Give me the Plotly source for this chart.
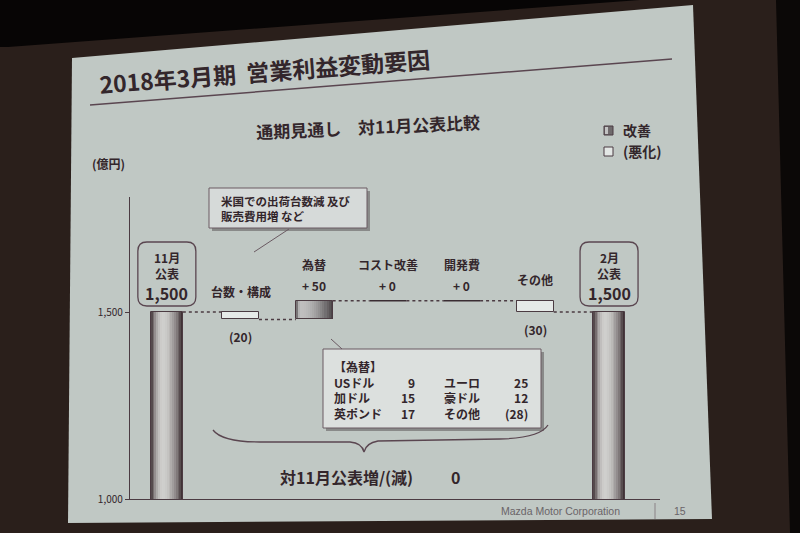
import math
import plotly.graph_objects as go

# ---------------- data ----------------
categories = ["11月\n公表", "台数・構成", "為替", "コスト改善", "開発費", "その他", "2月\n公表"]
measures = ["total", "relative", "relative", "relative", "relative", "relative", "total"]
values = [1500, -20, 50, 0, 0, -30, 1500]
value_labels = ["1,500", "(20)", "+ 50", "+ 0", "+ 0", "(30)", "1,500"]
y_tick_values = [1000, 1500]
y_tick_labels = ["1,000", "1,500"]
fx_title = "【為替】"
fx_left_names = ["USドル", "加ドル", "英ポンド"]
fx_left_values = ["9", "15", "17"]
fx_right_names = ["ユーロ", "豪ドル", "その他"]
fx_right_values = ["25", "12", "(28)"]
change_label = "対11月公表増/(減)"
change_value = "0"
legend_labels = ["改善", "(悪化)"]

# ---------------- geometry ----------------
FW, FH = 800, 533
L, R, T, B = 130, 140, 197, 34
W = FW - L - R
H = FH - T - B
YMIN = 1000
YMAX = 1000 + H / 0.374
XMIN = -0.5
XMAX = XMIN + W / 73.7

FONT = "Noto Sans CJK JP"
TXT = "#33262b"
LINE = "#4b3b42"


def xpix(x):
    return L + (x - XMIN) / (XMAX - XMIN) * W


def ypix(v):
    return T + (YMAX - v) / (YMAX - YMIN) * H


def pxp(x):
    return (x - L) / W


def pyp(y):
    return (T + H - y) / H


def poly(points):
    return "M " + " L ".join(f"{pxp(x):.5f},{pyp(y):.5f}" for x, y in points) + " Z"


def rounded(x0, y0, x1, y1, r):
    rx, ry = r / W, r / H
    a, b, c, d = pxp(x0), pyp(y1), pxp(x1), pyp(y0)
    return (f"M {a+rx},{b} L {c-rx},{b} Q {c},{b} {c},{b+ry} L {c},{d-ry} "
            f"Q {c},{d} {c-rx},{d} L {a+rx},{d} Q {a},{d} {a},{d-ry} L {a},{b+ry} "
            f"Q {a},{b} {a+rx},{b} Z")


def shade(t, peak, dark, light):
    if t < peak:
        s = 0.12 + 0.88 * math.sin(t / peak * math.pi / 2)
    else:
        s = math.cos((t - peak) / (1 - peak) * math.pi / 2) ** 0.9
    c = [int(dk + (lt - dk) * s) for dk, lt in zip(dark, light)]
    return f"rgb({c[0]},{c[1]},{c[2]})"


# ---------------- waterfall geometry from data ----------------
bars = []
level = 0
for i, (m, v) in enumerate(zip(measures, values)):
    if m == "total":
        start, end = 0, v
    else:
        start, end = level, level + v
    level = end
    bars.append(dict(i=i, m=m, v=v, start=start, end=end, lo=min(start, end), hi=max(start, end)))

TW, RWD = 0.434, 0.50
for b in bars:
    b["w"] = TW if b["m"] == "total" else RWD

fig = go.Figure()


def add_gradient(sel, width, peak, dark, light, n=18):
    for k in range(n):
        t = (k + 0.5) / n
        off = -width / 2 + k * width / n
        wk = min(width / n * 1.3, width / 2 - off)
        fig.add_trace(go.Bar(
            x=[b["i"] for b in sel], y=[b["hi"] - b["lo"] for b in sel],
            base=[b["lo"] for b in sel], width=wk, offset=off,
            marker=dict(color=shade(t, peak, dark, light), line=dict(width=0)),
            hoverinfo="skip", showlegend=False))
    fig.add_trace(go.Bar(
        x=[b["i"] for b in sel], y=[b["hi"] - b["lo"] for b in sel],
        base=[b["lo"] for b in sel], width=width, offset=-width / 2,
        marker=dict(color="rgba(0,0,0,0)", line=dict(width=1, color=LINE)),
        hoverinfo="skip", showlegend=False))


tot = [b for b in bars if b["m"] == "total"]
pos = [b for b in bars if b["m"] == "relative" and b["v"] > 0]
neg = [b for b in bars if b["m"] == "relative" and b["v"] < 0]
zer = [b for b in bars if b["m"] == "relative" and b["v"] == 0]

add_gradient(tot, TW, 0.36, (50, 36, 40), (208, 208, 206))
add_gradient(pos, RWD, 0.12, (68, 62, 65), (192, 192, 192))

fig.add_trace(go.Bar(
    x=[b["i"] for b in neg], y=[b["hi"] - b["lo"] for b in neg],
    base=[b["lo"] for b in neg], width=RWD, offset=-RWD / 2,
    marker=dict(color="#e6eae8", line=dict(width=1, color=LINE)),
    hoverinfo="skip", showlegend=False))

zx, zy = [], []
for b in zer:
    zx += [b["i"] - RWD / 2, b["i"] + RWD / 2, None]
    zy += [b["end"], b["end"], None]
fig.add_trace(go.Scatter(x=zx, y=zy, mode="lines", line=dict(color="#3a2d33", width=1.6),
                         hoverinfo="skip", showlegend=False))

cx, cy = [], []
for a, b in zip(bars[:-1], bars[1:]):
    cx += [a["i"] + a["w"] / 2, b["i"] - b["w"] / 2, None]
    cy += [a["end"], a["end"], None]
fig.add_trace(go.Scatter(x=cx, y=cy, mode="lines", line=dict(color=LINE, width=1.6, dash="dot"),
                         hoverinfo="skip", showlegend=False))

# ---------------- decorations ----------------
shapes = []
anns = []

shapes.append(dict(type="path", xref="paper", yref="paper", layer="below",
                   path=poly([(0, 0), (640, 0), (8, 47), (0, 47)]),
                   fillcolor="#070505", line=dict(width=0)))
shapes.append(dict(type="path", xref="paper", yref="paper", layer="below",
                   path=poly([(776, 0), (800, 0), (800, 533), (790, 533)]),
                   fillcolor="#0b0807", line=dict(width=0)))
shapes.append(dict(type="path", xref="paper", yref="paper", layer="below",
                   path=poly([(72, 58), (693, 5), (712, 519), (68, 523)]),
                   fillcolor="#c0c8c4", line=dict(width=0)))


def text(px, py, s, size=12, xanchor="center", color=TXT, bold=True, angle=0, family=FONT,
         align="center", yanchor="middle"):
    anns.append(dict(x=pxp(px), y=pyp(py), xref="paper", yref="paper", text=(f"<b>{s}</b>" if bold else s),
                     showarrow=False, xanchor=xanchor, yanchor=yanchor, textangle=angle, align=align,
                     borderpad=0, font=dict(family=family, size=size, color=color)))


def line(x0, y0, x1, y1, color=LINE, width=1):
    shapes.append(dict(type="line", xref="paper", yref="paper", x0=pxp(x0), y0=pyp(y0),
                       x1=pxp(x1), y1=pyp(y1), line=dict(color=color, width=width)))


def rect(x0, y0, x1, y1, fill, color=LINE, width=1, layer="above"):
    shapes.append(dict(type="rect", xref="paper", yref="paper", x0=pxp(x0), y0=pyp(y1),
                       x1=pxp(x1), y1=pyp(y0), fillcolor=fill, layer=layer,
                       line=dict(color=color, width=width)))


# title + underline
text(264, 71, "2018年3月期  営業利益変動要因", size=23, angle=-4.4)
line(90, 105, 672, 59, color="#5a4650", width=1.5)
text(368, 126, "通期見通し　対11月公表比較", size=17, angle=-2.6)
text(108, 163, "(億円)", size=12)

# legend
for k, lab in enumerate(legend_labels):
    y = 131 + k * 21
    if k == 0:
        rect(604, y - 5, 613, y + 4, "#6f6a6c")
        rect(605, y - 4, 608, y + 3, "#c3c3c3", width=0)
    else:
        rect(604, y - 5, 613, y + 4, "#e3e7e5")
    text(622, y - 1, lab, size=14, xanchor="left")

# category labels and values
for b, cat, vl in zip(bars, categories, value_labels):
    cxp = xpix(b["i"])
    top, bot = ypix(b["hi"]), ypix(b["lo"])
    if b["m"] == "total":
        shapes.append(dict(type="path", xref="paper", yref="paper",
                           path=rounded(cxp - 29, top - 70, cxp + 29, top - 6, 9),
                           line=dict(color="#5a4650", width=1.3), fillcolor="rgba(0,0,0,0)"))
        l1, l2 = cat.split("\n")
        text(cxp, top - 55, l1, size=12)
        text(cxp, top - 39, l2, size=12)
        text(cxp, top - 19, vl, size=16)
    elif b["v"] < 0:
        text(cxp, top - 21, cat, size=12)
        text(cxp, bot + 17, vl, size=12)
    else:
        text(cxp, top - 36, cat, size=12)
        text(cxp, top - 15, vl, size=12)

# callout 1
rect(212, 191, 370, 231, "rgba(70,62,66,0.45)", width=0)
rect(209, 188, 367, 228, "#d6dad9", color="#6a5a62")
text(220, 208, "米国での出荷台数減 及び<br>販売費用増 など", size=11.5, xanchor="left", align="left")
line(289, 229, 254, 252, color="#6a5a62")

# fx table (each column one multi-line annotation)
rect(326, 352, 544, 431, "rgba(70,62,66,0.45)", width=0)
rect(323, 349, 541, 428, "#dce0de", color="#6a5a62")
line(342, 349, 331, 339, color="#6a5a62")
TY = 390
text(333, TY, "<br>".join([fx_title] + fx_left_names), size=12, xanchor="left", align="left")
text(416, TY, "<br>".join([" "] + fx_left_values), size=12, xanchor="right", align="right")
text(443, TY, "<br>".join([" "] + fx_right_names), size=12, xanchor="left", align="left")
text(529, TY, "<br>".join([" "] + fx_right_values), size=12, xanchor="right", align="right")

# brace
bp = [(213, 430), (222, 442), (260, 442), (350, 442), (362, 443), (364, 452),
      (366, 443), (378, 441), (500, 439), (540, 438), (548, 425)]
c = lambda p: f"{pxp(p[0]):.5f},{pyp(p[1]):.5f}"
bpath = (f"M {c(bp[0])} Q {c(bp[1])} {c(bp[2])} L {c(bp[3])} Q {c(bp[4])} {c(bp[5])} "
         f"Q {c(bp[6])} {c(bp[7])} L {c(bp[8])} Q {c(bp[9])} {c(bp[10])}")
shapes.append(dict(type="path", xref="paper", yref="paper", path=bpath,
                   line=dict(color="#5a4650", width=1.3)))

text(346, 477, change_label, size=16)
text(455, 477, change_value, size=16)

# footer
text(560, 511, "Mazda Motor Corporation", size=10.5, color="#6a6468", bold=False, family="Liberation Sans")
line(655, 503, 655, 519, color="#8a8286")
text(680, 511, "15", size=10.5, color="#6a6468", bold=False, family="Liberation Sans")

fig.update_layout(
    width=FW, height=FH,
    margin=dict(l=L, r=R, t=T, b=B, autoexpand=False),
    paper_bgcolor="#2a1f1b", plot_bgcolor="rgba(0,0,0,0)",
    barmode="overlay", bargap=0, showlegend=False,
    shapes=shapes, annotations=anns,
    xaxis=dict(range=[XMIN, XMAX], showline=True, linecolor=LINE, linewidth=1.3,
               showticklabels=False, ticks="", showgrid=False, zeroline=False, fixedrange=True),
    yaxis=dict(range=[YMIN, YMAX], showline=True, linecolor=LINE, linewidth=1.3,
               tickvals=y_tick_values, ticktext=y_tick_labels, ticks="outside", ticklen=4,
               tickcolor=LINE, tickfont=dict(family=FONT, size=10, color=TXT),
               showgrid=False, zeroline=False, fixedrange=True),
)

fig.write_html("out.html", config={"displayModeBar": False},
               post_script="document.body.style.margin='0';document.body.style.overflow='hidden';")
